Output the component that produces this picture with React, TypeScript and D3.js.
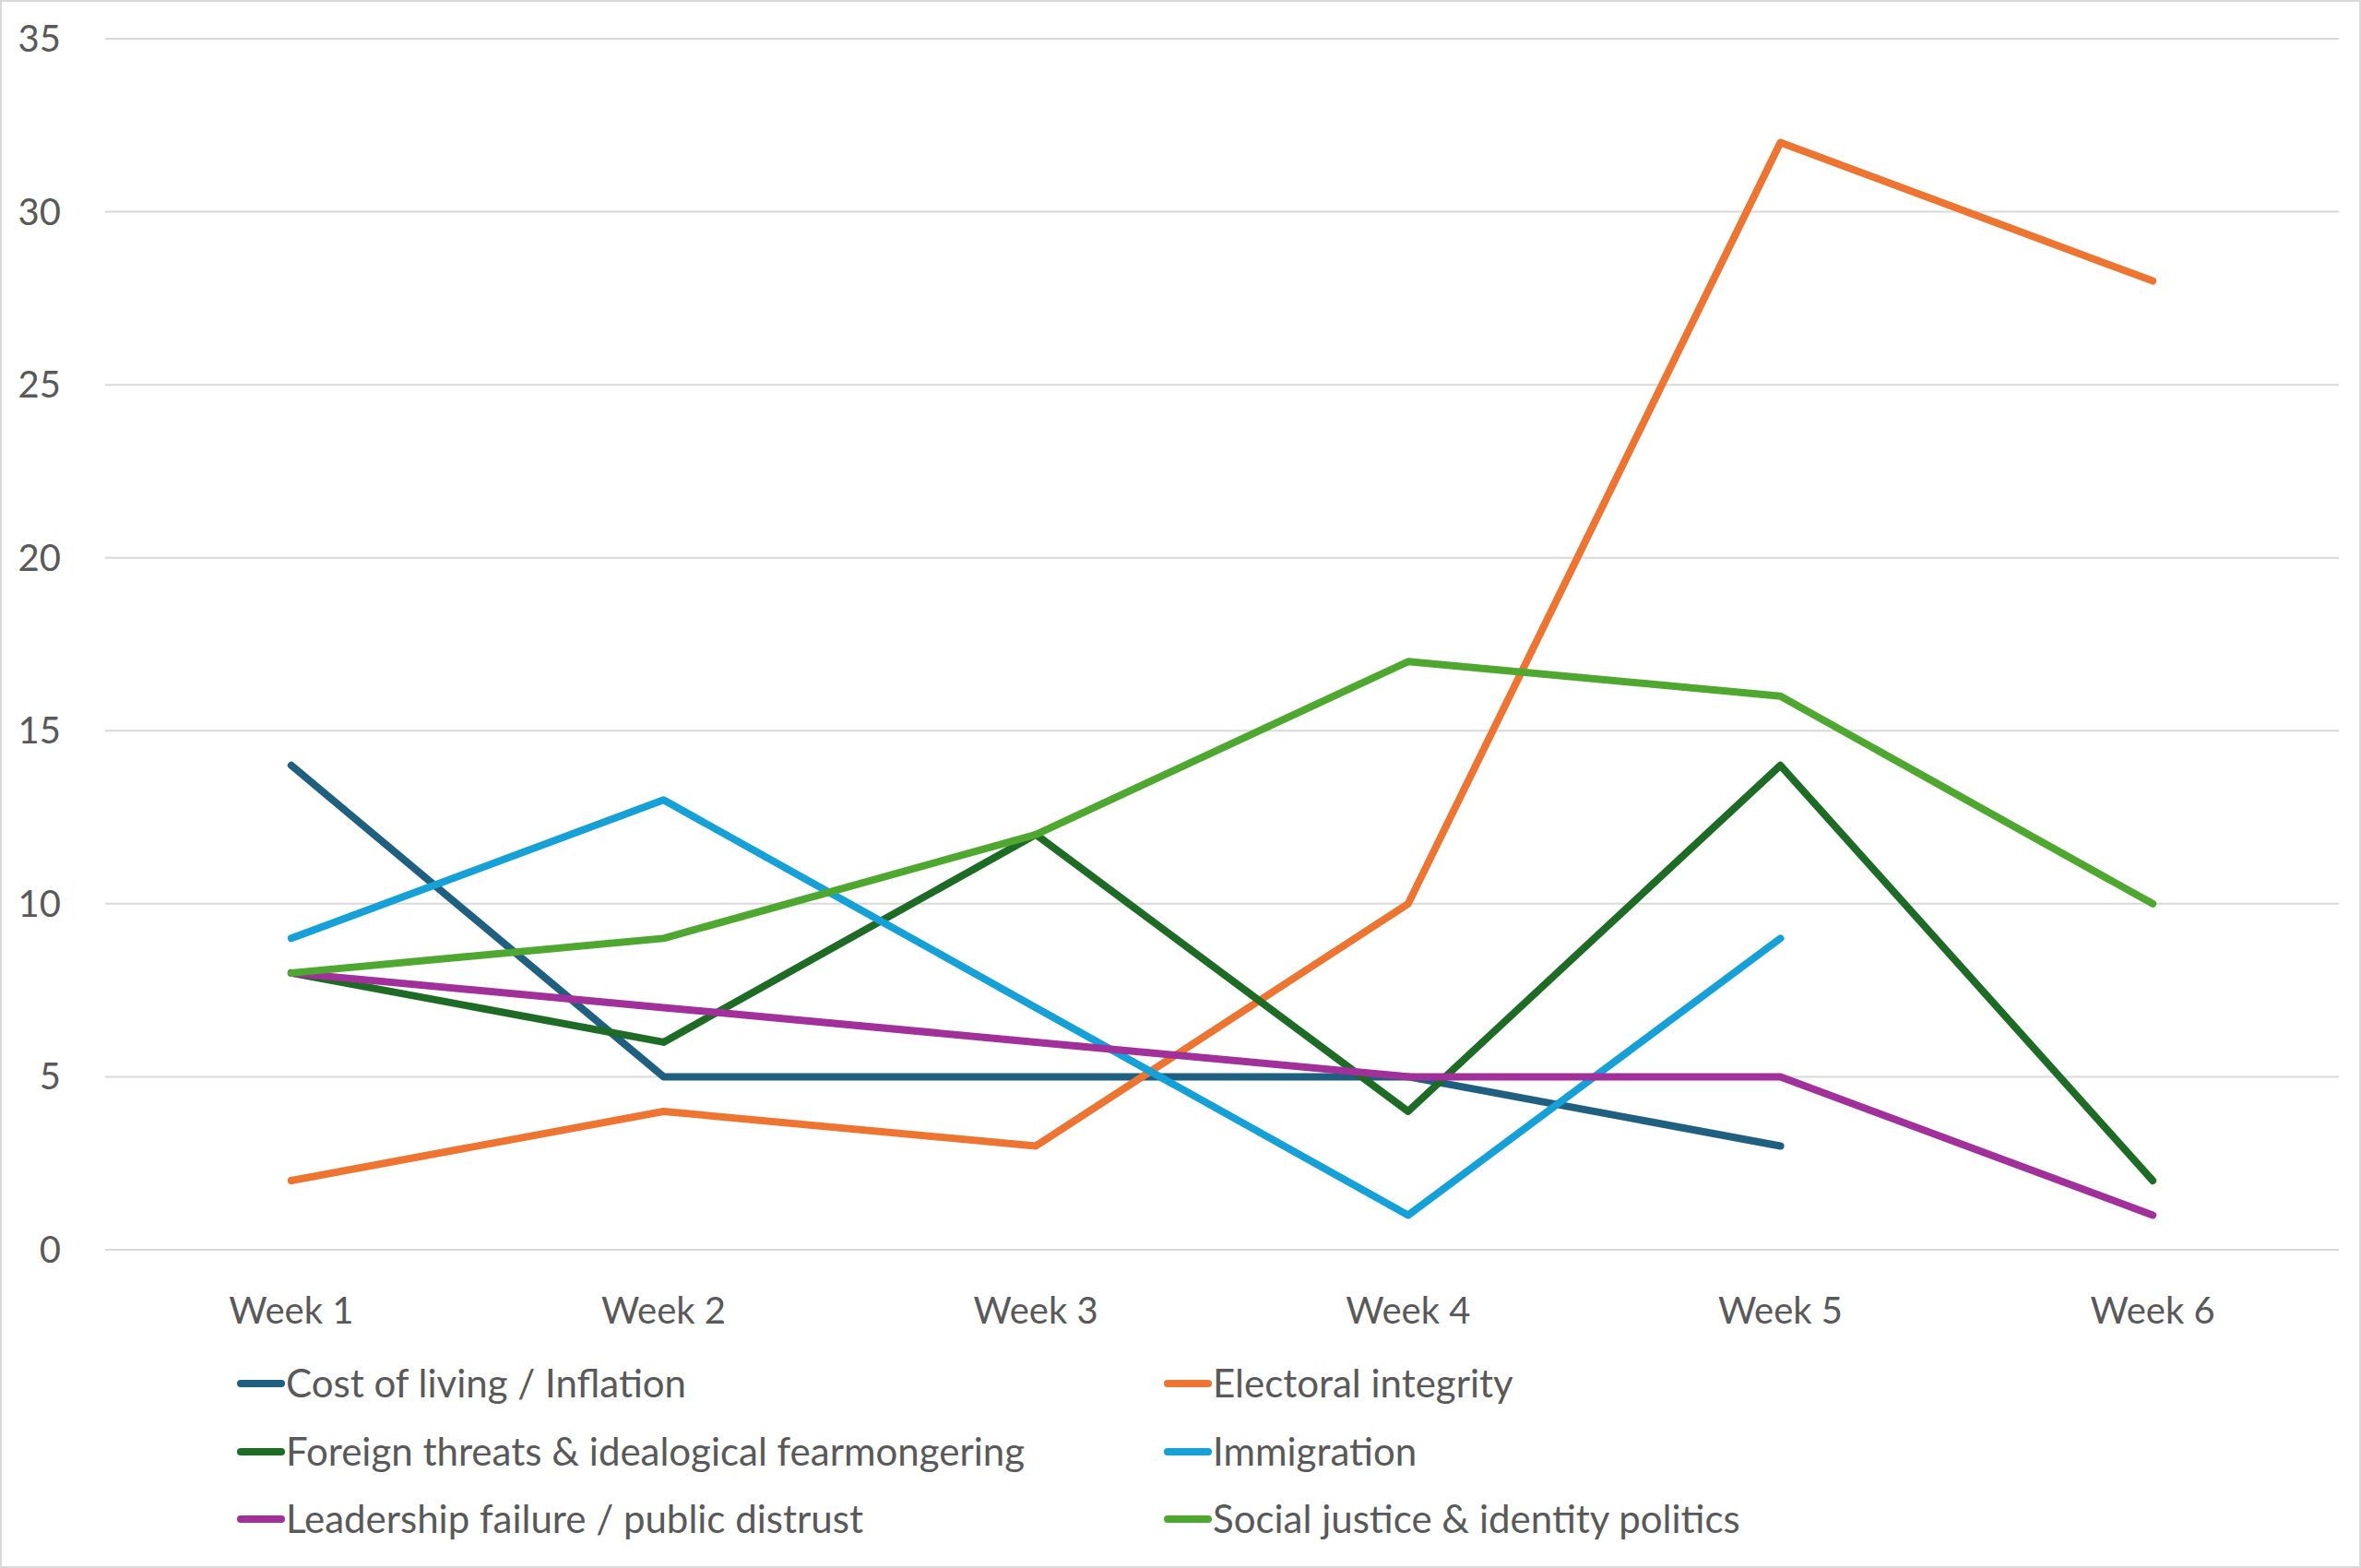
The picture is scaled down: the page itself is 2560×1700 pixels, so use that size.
import * as d3 from 'd3';

const weeks = ['Week 1', 'Week 2', 'Week 3', 'Week 4', 'Week 5', 'Week 6'];
const yTicks = [0, 5, 10, 15, 20, 25, 30, 35];

const seriesNames = [
  'Cost of living / Inflation',
  'Electoral integrity',
  'Foreign threats & idealogical fearmongering',
  'Immigration',
  'Leadership failure / public distrust',
  'Social justice & identity politics',
];
const seriesColors = ['#1F5F7F', '#ED7431', '#1E6B26', '#15A0D8', '#A1309A', '#4EA72E'];

const costOfLiving = [14, 5, 5, 5, 3, null];
const electoral = [2, 4, 3, 10, 32, 28];
const foreign = [8, 6, 12, 4, 14, 2];
const immigration = [9, 13, 7, 1, 9, null];
const leadership = [8, 7, 6, 5, 5, 1];
const socialJustice = [8, 9, 12, 17, 16, 10];

const seriesValues = [costOfLiving, electoral, foreign, immigration, leadership, socialJustice];

const W = 2560;
const H = 1700;
const font = 'Lato, "Open Sans", sans-serif';

export default function App() {
  const x = d3.scaleBand<string>().domain(weeks).range([114, 2536]);
  const y = d3.scaleLinear().domain([0, 35]).range([1355, 42]);
  const cx = (w: string) => (x(w) ?? 0) + x.bandwidth() / 2;

  const line = d3
    .line<number | null>()
    .defined((d) => d != null)
    .x((_, i) => cx(weeks[i]))
    .y((d) => y(d as number));

  const legendX = [261, 1266];
  const legendY = [1500, 1574, 1647];

  return (
    <svg width={W} height={H} style={{ position: 'absolute', left: 0, top: 0, background: '#fff' }}>
      <rect x={1} y={1} width={W - 2} height={H - 2} fill="#fff" stroke="#D9D9D9" strokeWidth={2} />
      {yTicks.map((t) => (
        <g key={t}>
          <line x1={114} x2={2536} y1={y(t)} y2={y(t)} stroke="#D9D9D9" strokeWidth={2} />
          <text x={66} y={y(t)} dy="0.35em" textAnchor="end" fontFamily={font} fontSize={40} fill="#595959">
            {t}
          </text>
        </g>
      ))}
      {weeks.map((w) => (
        <text key={w} x={cx(w)} y={1435} textAnchor="middle" fontFamily={font} fontSize={40} fill="#595959">
          {w}
        </text>
      ))}
      {seriesValues.map((vals, i) => (
        <path
          key={i}
          d={line(vals) ?? ''}
          fill="none"
          stroke={seriesColors[i]}
          strokeWidth={8}
          strokeLinecap="round"
          strokeLinejoin="round"
        />
      ))}
      {seriesNames.map((name, i) => {
        const lx = legendX[i % 2];
        const ly = legendY[Math.floor(i / 2)];
        return (
          <g key={name}>
            <line x1={lx} x2={lx + 44} y1={ly} y2={ly} stroke={seriesColors[i]} strokeWidth={8} strokeLinecap="round" />
            <text x={lx + 49} y={ly} dy="0.35em" fontFamily={font} fontSize={42} fill="#595959">
              {name}
            </text>
          </g>
        );
      })}
    </svg>
  );
}
